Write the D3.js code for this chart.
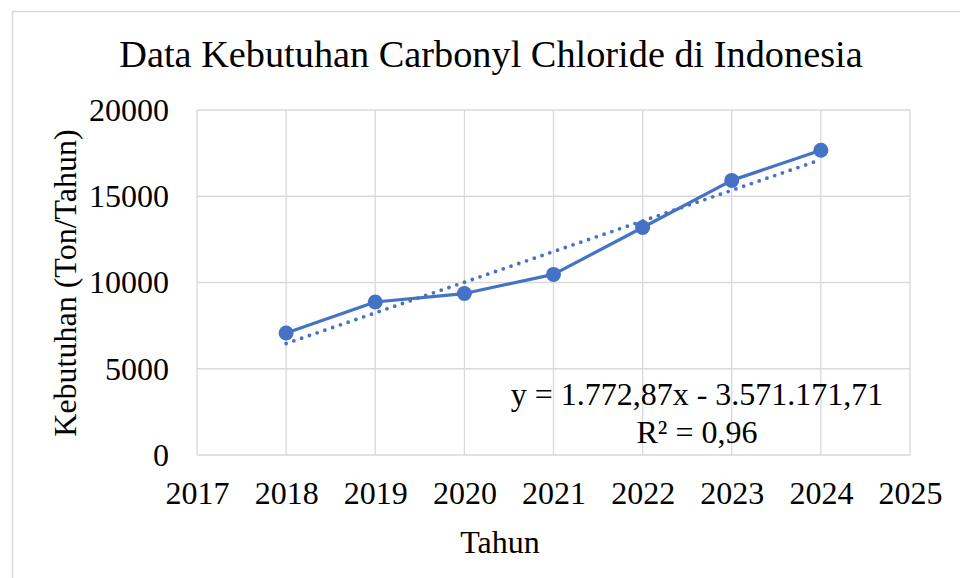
<!DOCTYPE html>
<html>
<head>
<meta charset="utf-8">
<script src="https://cdn.jsdelivr.net/npm/d3@7"></script>
<style>
    body { margin: 0; background: #fff; }
    svg text { font-family: "Liberation Serif", "Times New Roman", serif; fill: #000; }
</style>
</head>
<body>
<div id="chart"></div>
<script>
// data
const years = [2018, 2019, 2020, 2021, 2022, 2023, 2024];
const kebutuhan = [7070, 8870, 9360, 10470, 13190, 15920, 17670];
const xTicks = [2017, 2018, 2019, 2020, 2021, 2022, 2023, 2024, 2025];
const yTicks = [0, 5000, 10000, 15000, 20000];
const equationLines = ['y = 1.772,87x - 3.571.171,71', 'R² = 0,96'];

const data = years.map((y, i) => ({year: y, value: kebutuhan[i]}));

const width = 960;
const height = 578;
const margin = {top: 110, right: 50, bottom: 123, left: 197};
const blue = '#4472c4';
const gridColor = '#d9d9d9';
const labelSize = '32px';

const svg = d3.select('#chart')
    .append('svg')
        .attr('width', width)
        .attr('height', height);

// chart area border (runs off the right and bottom edge)
svg.append('rect')
    .attr('x', 12.5)
    .attr('y', 11.5)
    .attr('width', 1000)
    .attr('height', 1000)
    .attr('fill', 'none')
    .attr('stroke', gridColor)
    .attr('stroke-width', 1.5);

const x = d3.scaleLinear()
    .domain([2017, 2025])
    .range([margin.left, width - margin.right]);
const y = d3.scaleLinear()
    .domain([0, 20000])
    .range([height - margin.bottom, margin.top]);

// gridlines
const grid = svg.append('g')
    .attr('stroke', gridColor)
    .attr('stroke-width', 1.3);
grid.selectAll('.vgrid')
    .data(xTicks)
    .join('line')
        .attr('class', 'vgrid')
        .attr('x1', d => x(d))
        .attr('x2', d => x(d))
        .attr('y1', y(0))
        .attr('y2', y(20000));
grid.selectAll('.hgrid')
    .data(yTicks)
    .join('line')
        .attr('class', 'hgrid')
        .attr('x1', x(2017))
        .attr('x2', x(2025))
        .attr('y1', d => y(d))
        .attr('y2', d => y(d));

// axes (labels only, Excel style)
const xAxis = svg.append('g')
    .attr('transform', `translate(0, ${y(0)})`)
    .call(d3.axisBottom(x).tickValues(xTicks).tickFormat(d3.format('d')).tickSize(0));
const yAxis = svg.append('g')
    .attr('transform', `translate(${x(2017)}, 0)`)
    .call(d3.axisLeft(y).tickValues(yTicks).tickFormat(d3.format('d')).tickSize(0).tickPadding(28));
[xAxis, yAxis].forEach(ax => {
    ax.select('.domain').remove();
    ax.selectAll('text')
        .attr('fill', '#000')
        .style('font-size', labelSize)
        .style('font-family', '"Liberation Serif", "Times New Roman", serif');
});
xAxis.selectAll('text').attr('dy', 0).attr('y', 48.5);
yAxis.selectAll('text').attr('dy', '0.32em');

// trendline (least squares from the data)
const mx = d3.mean(data, d => d.year);
const my = d3.mean(data, d => d.value);
const slope = d3.sum(data, d => (d.year - mx) * (d.value - my)) / d3.sum(data, d => (d.year - mx) ** 2);
const intercept = my - slope * mx;
const trend = [years[0], years[years.length - 1]].map(yr => ({year: yr, value: slope * yr + intercept}));

const line = d3.line()
    .x(d => x(d.year))
    .y(d => y(d.value));

svg.append('path')
    .datum(trend)
    .attr('d', line)
    .attr('fill', 'none')
    .attr('stroke', blue)
    .attr('stroke-width', 3.8)
    .attr('stroke-linecap', 'round')
    .attr('stroke-dasharray', '0 8.2');

svg.append('path')
    .datum(data)
    .attr('d', line)
    .attr('fill', 'none')
    .attr('stroke', blue)
    .attr('stroke-width', 3.2)
    .attr('stroke-linejoin', 'round');

svg.append('g')
    .selectAll('circle')
    .data(data)
    .join('circle')
        .attr('cx', d => x(d.year))
        .attr('cy', d => y(d.value))
        .attr('r', 7.5)
        .attr('fill', blue);

// equation label
svg.append('text')
    .attr('text-anchor', 'middle')
    .style('font-size', labelSize)
    .selectAll('tspan')
    .data(equationLines)
    .join('tspan')
        .attr('x', 697)
        .attr('y', (d, i) => 405 + i * 37.5)
        .text(d => d);

// titles
svg.append('text')
    .attr('x', 491)
    .attr('y', 67)
    .attr('text-anchor', 'middle')
    .style('font-size', '38.3px')
    .text('Data Kebutuhan Carbonyl Chloride di Indonesia');

svg.append('text')
    .attr('x', 500)
    .attr('y', 553)
    .attr('text-anchor', 'middle')
    .style('font-size', labelSize)
    .text('Tahun');

svg.append('text')
    .attr('transform', 'translate(76, 283) rotate(-90)')
    .attr('text-anchor', 'middle')
    .style('font-size', labelSize)
    .text('Kebutuhan (Ton/Tahun)');
</script>
</body>
</html>
